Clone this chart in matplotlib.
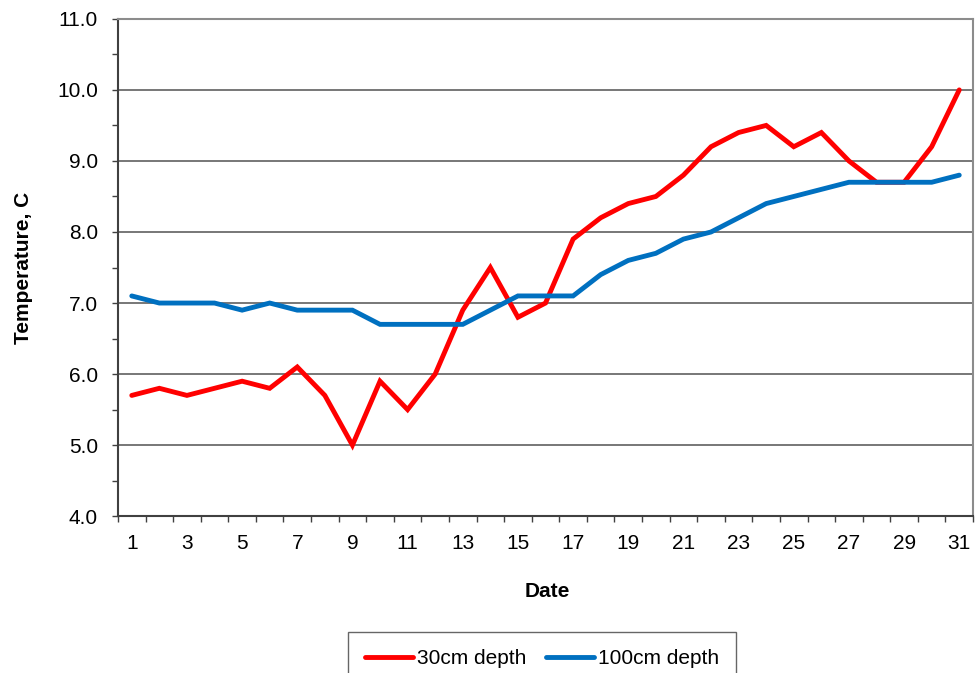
import numpy as np
import matplotlib.pyplot as plt
from matplotlib.ticker import MultipleLocator, FixedLocator

plt.rcParams['font.family'] = ['Liberation Sans', 'DejaVu Sans']

days = list(range(1, 32))
temp_30cm = [5.7, 5.8, 5.7, 5.8, 5.9, 5.8, 6.1, 5.7, 5.0, 5.9, 5.5, 6.0, 6.9, 7.5, 6.8, 7.0,
             7.9, 8.2, 8.4, 8.5, 8.8, 9.2, 9.4, 9.5, 9.2, 9.4, 9.0, 8.7, 8.7, 9.2, 10.0]
temp_100cm = [7.1, 7.0, 7.0, 7.0, 6.9, 7.0, 6.9, 6.9, 6.9, 6.7, 6.7, 6.7, 6.7, 6.9, 7.1, 7.1,
              7.1, 7.4, 7.6, 7.7, 7.9, 8.0, 8.2, 8.4, 8.5, 8.6, 8.7, 8.7, 8.7, 8.7, 8.8]
series_labels = ["30cm depth", "100cm depth"]

FS = 15

fig = plt.figure(figsize=(9.75, 6.73), dpi=100)
ax = fig.add_axes([0.121, 0.233, 0.877, 0.739])

ax.plot(days, temp_30cm, color="#FF0000", lw=3.5, solid_capstyle="round",
        solid_joinstyle="miter", label=series_labels[0], zorder=3)
ax.plot(days, temp_100cm, color="#0070C0", lw=3.5, solid_capstyle="round",
        solid_joinstyle="miter", label=series_labels[1], zorder=3)

ax.set_xlim(0.5, 31.5)
ax.set_ylim(4.0, 11.0)

# y axis: major every 1.0 with grid, minor every 0.5
ax.yaxis.set_major_locator(MultipleLocator(1.0))
ax.yaxis.set_minor_locator(MultipleLocator(0.5))
ax.set_yticklabels([f"{v:.1f}" for v in ax.get_yticks()])
ax.grid(axis="y", which="major", color="#606060", lw=1.2, zorder=1)

# x axis: ticks between categories, labels on odd days
ax.xaxis.set_major_locator(FixedLocator(days[::2]))
ax.set_xticklabels([str(d) for d in days[::2]])
ax.xaxis.set_minor_locator(FixedLocator(np.arange(0.5, 32, 1.0)))
ax.tick_params(axis="x", which="major", length=0, pad=13, labelsize=FS)
ax.tick_params(axis="x", which="minor", length=4.5, width=1, color="#404040")
ax.tick_params(axis="y", which="both", length=4.5, width=1, color="#404040",
               labelsize=FS, pad=10)

for side in ["left", "bottom"]:
    ax.spines[side].set_color("#404040")
    ax.spines[side].set_linewidth(1.5)
for side in ["top", "right"]:
    ax.spines[side].set_color("#8C8C8C")
    ax.spines[side].set_linewidth(1.5)

ax.set_xlabel("Date", fontsize=FS, fontweight="bold")
ax.xaxis.set_label_coords(0.502, -0.133)
ax.set_ylabel("Temperature, C", fontsize=FS, fontweight="bold")
ax.yaxis.set_label_coords(-0.099, 0.5)

leg = fig.legend(loc="upper center", bbox_to_anchor=(0.556, 0.061), ncol=2, fontsize=FS,
                 frameon=True, fancybox=False, edgecolor="#404040", handlelength=2.3,
                 handletextpad=0.2, columnspacing=0.9, borderpad=0.83, borderaxespad=0)
leg.get_frame().set_linewidth(1.0)

fig.savefig("out.png", dpi=100)
